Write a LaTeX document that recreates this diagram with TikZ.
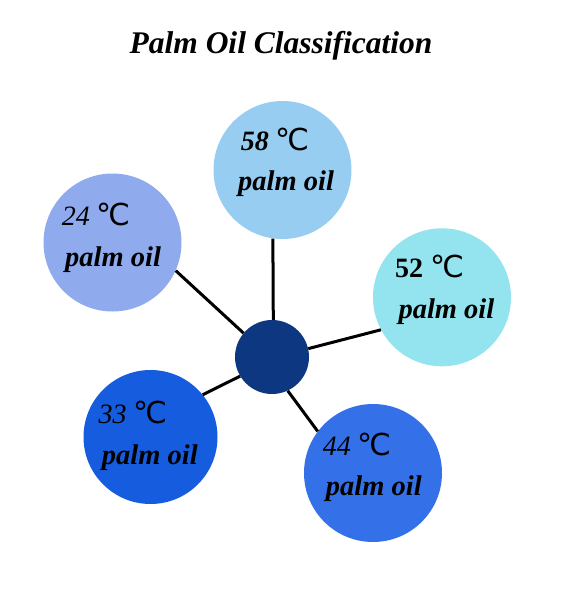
\documentclass[tikz,border=0pt]{standalone}
\usepackage{fontspec}
\setmainfont{Liberation Serif}
\newfontfamily\degfont[Scale=1.08]{DejaVu Sans}
\newcommand\mydegC{{\degfont\mdseries\upshape ℃}}
\definecolor{ctop}{RGB}{151,205,240}
\definecolor{cleft}{RGB}{143,171,238}
\definecolor{cright}{RGB}{147,228,238}
\definecolor{cbl}{RGB}{22,92,222}
\definecolor{cbr}{RGB}{52,113,232}
\definecolor{ccen}{RGB}{14,55,130}
\tikzset{
  bubble/.style={circle,draw=none,inner sep=0pt,minimum size=138pt},
  link/.style={line width=3pt,black},
  numlbl/.style={anchor=base west,inner sep=0pt,font=\fontsize{28}{30}\selectfont},
  oillbl/.style={anchor=base west,inner sep=0pt,font=\fontsize{28.5}{30}\selectfont\bfseries\itshape},
  titlelbl/.style={anchor=base,inner sep=0pt,font=\fontsize{31.5}{34}\selectfont\bfseries\itshape}
}
\begin{document}
\begin{tikzpicture}[x=1pt,y=-1pt]
\useasboundingbox (0,0) rectangle (572,589);
\node[titlelbl] (title) at (281,53) {Palm Oil Classification};
\node[bubble,fill=ctop] (n58) at (282.5,170) {};
\node[bubble,fill=cleft] (n24) at (112.5,242.5) {};
\node[bubble,fill=cright] (n52) at (442,297.3) {};
\node[bubble,fill=cbl,minimum size=134pt] (n33) at (150.5,437) {};
\node[bubble,fill=cbr] (n44) at (373,473) {};
\node[circle,draw=none,inner sep=0pt,minimum size=74pt,fill=ccen] (cen) at (272,357) {};
\draw[link] (cen.88) -- (n58.262);
\draw[link] (cen.140) -- (n24.336);
\draw[link] (cen.13) -- (n52.208);
\draw[link] (cen.211) -- (n33.39);
\draw[link] (cen.295) -- (n44.143);
\node[numlbl] (t58) at (240.7,150) {\bfseries\itshape 58 \mydegC};
\node[oillbl] (p58) at (238,190) {palm oil};
\node[numlbl] (t24) at (61.7,225) {\itshape 24 \mydegC};
\node[oillbl] (p24) at (65,266) {palm oil};
\node[numlbl] (t52) at (395,277.3) {\bfseries 52 \mydegC};
\node[oillbl] (p52) at (398.3,318.3) {palm oil};
\node[numlbl] (t33) at (98.3,423.3) {\itshape 33 \mydegC};
\node[oillbl] (p33) at (101.7,464.3) {palm oil};
\node[numlbl] (t44) at (322.7,455) {\itshape 44 \mydegC};
\node[oillbl] (p44) at (325.7,495) {palm oil};
\end{tikzpicture}
\end{document}
